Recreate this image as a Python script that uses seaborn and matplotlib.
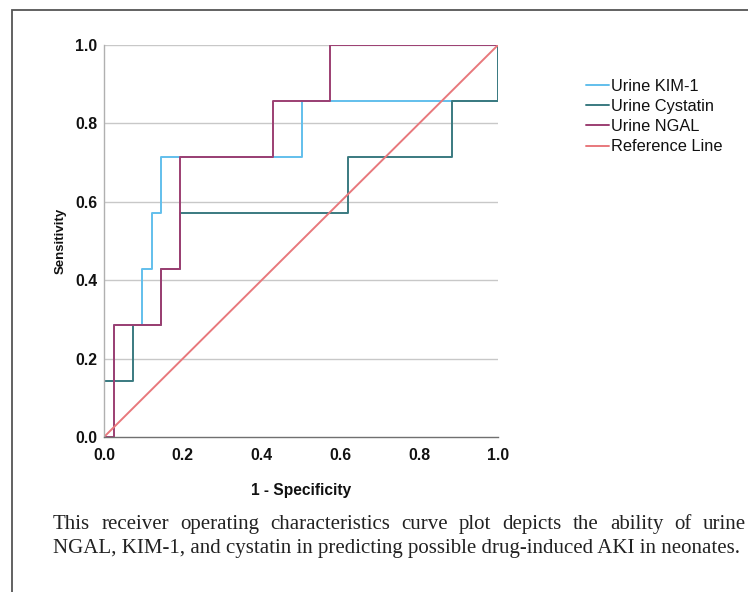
import matplotlib
matplotlib.use("Agg")
import matplotlib.pyplot as plt
import seaborn as sns
import pandas as pd
from matplotlib.lines import Line2D
from matplotlib.patches import Rectangle

# ROC step coordinates (1 - specificity, sensitivity)
kim_fpr = [0.0, 0.0, 0.026, 0.026, 0.097, 0.097, 0.121, 0.121, 0.145, 0.145, 0.502, 0.502, 1.0, 1.0]
kim_tpr = [0.0, 0.143, 0.143, 0.286, 0.286, 0.429, 0.429, 0.571, 0.571, 0.714, 0.714, 0.857, 0.857, 1.0]

cys_fpr = [0.0, 0.0, 0.073, 0.073, 0.145, 0.145, 0.193, 0.193, 0.620, 0.620, 0.882, 0.882, 1.0, 1.0]
cys_tpr = [0.0, 0.143, 0.143, 0.286, 0.286, 0.429, 0.429, 0.571, 0.571, 0.714, 0.714, 0.857, 0.857, 1.0]

ngal_fpr = [0.0, 0.026, 0.026, 0.145, 0.145, 0.193, 0.193, 0.430, 0.430, 0.574, 0.574, 1.0]
ngal_tpr = [0.0, 0.0, 0.286, 0.286, 0.429, 0.429, 0.714, 0.714, 0.857, 0.857, 1.0, 1.0]

ref_fpr = [0.0, 1.0]
ref_tpr = [0.0, 1.0]

names = ["Urine KIM-1", "Urine Cystatin", "Urine NGAL", "Reference Line"]
colors = ["#62BFEC", "#3A7A80", "#9C3F72", "#E8787C"]
ticks = [0.0, 0.2, 0.4, 0.6, 0.8, 1.0]
caption1 = "This receiver operating characteristics curve plot depicts the ability of urine"
caption2 = "NGAL, KIM-1, and cystatin in predicting possible drug-induced AKI in neonates."

frames = []
for n, fx, fy in zip(names, [kim_fpr, cys_fpr, ngal_fpr, ref_fpr],
                     [kim_tpr, cys_tpr, ngal_tpr, ref_tpr]):
    frames.append(pd.DataFrame({"fpr": fx, "tpr": fy, "curve": n}))
df = pd.concat(frames, ignore_index=True)

sns.set_theme(style="white")
plt.rcParams['font.family'] = ['Liberation Sans', 'DejaVu Sans']

W, H = 748, 592
fig = plt.figure(figsize=(W / 100, H / 100), dpi=100)
ax = fig.add_axes([104 / W, 1 - 437 / H, 394 / W, 392 / H])

for ticky in ticks[1:]:
    ax.axhline(ticky, color="#c8c8c8", lw=1.0, zorder=0)

sns.lineplot(data=df, x="fpr", y="tpr", hue="curve", palette=dict(zip(names, colors)),
             sort=False, estimator=None, linewidth=1.4, legend=False, ax=ax)

ax.set_xlim(0, 1)
ax.set_ylim(0, 1)
ax.set_xticks(ticks)
ax.set_yticks(ticks)
ax.set_xticklabels([f"{t:.1f}" for t in ticks], fontsize=11.4, fontweight="bold", color="#111111")
ax.set_yticklabels([f"{t:.1f}" for t in ticks], fontsize=11.4, fontweight="bold", color="#111111")
ax.tick_params(axis="x", pad=8, length=0)
ax.tick_params(axis="y", pad=5, length=0)
ax.set_xlabel("1 - Specificity", fontsize=11.2, fontweight="bold", labelpad=14, color="#111111")
ax.set_ylabel("Sensitivity", fontsize=9.5, fontweight="bold", labelpad=6, color="#111111")
for s in ["top", "right"]:
    ax.spines[s].set_visible(False)
ax.spines["left"].set_color("#b0b0b0")
ax.spines["bottom"].set_color("#707070")
ax.spines["left"].set_linewidth(1.0)
ax.spines["bottom"].set_linewidth(1.0)

handles = [Line2D([0], [0], color=c, lw=1.4) for c in colors]
fig.legend(handles, names, loc="upper left", bbox_to_anchor=(579 / W, 1 - 72 / H),
           frameon=False, fontsize=11.8, handlelength=1.45, handletextpad=0.12,
           labelspacing=0.32, borderaxespad=0, labelcolor="#111111")

# border of the figure panel
fig.patches.append(Rectangle((12 / W, -0.2), 1.2, 1.2 - 10 / H,
                             transform=fig.transFigure, fill=False,
                             edgecolor="#555555", lw=1.3))

# caption, first line justified
serif = ['Liberation Serif', 'DejaVu Serif']
renderer = fig.canvas.get_renderer()
words = caption1.split()
left, right = 53, 746
objs = [fig.text(0, 1 - 529 / H, w, family=serif, fontsize=15, va="baseline",
                 color="#222222") for w in words]
widths = [o.get_window_extent(renderer).width for o in objs]
gap = (right - left - sum(widths)) / (len(words) - 1)
xpos = left
for o, wd in zip(objs, widths):
    o.set_x(xpos / W)
    xpos += wd + gap
fig.text(left / W, 1 - 553 / H, caption2, family=serif, fontsize=15, va="baseline",
         color="#222222")

fig.savefig("out.png", dpi=100)
